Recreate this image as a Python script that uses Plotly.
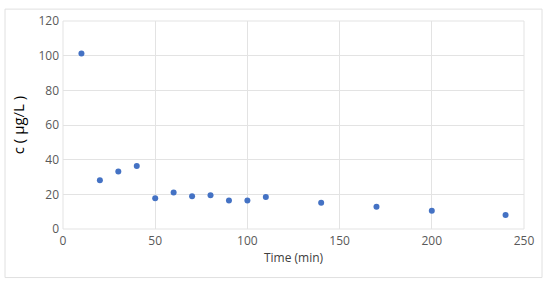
import plotly.graph_objects as go

time_min = [10, 20, 30, 40, 50, 60, 70, 80, 90, 100, 110, 140, 170, 200, 240]
conc = [101.3, 28.1, 33.2, 36.3, 17.7, 21.1, 18.9, 19.4, 16.4, 16.4, 18.5, 15.1, 12.8, 10.5, 8.1]

W, H = 550, 286
L, R, T, B = 63, 26, 19, 57
pw, ph = W - L - R, H - T - B

fig = go.Figure()
fig.add_trace(go.Scatter(
    x=time_min, y=conc, mode="markers",
    marker=dict(color="#4472C4", size=6),
    showlegend=False,
))

font_family = "Open Sans, Liberation Sans, sans-serif"
fig.update_layout(
    width=W, height=H,
    margin=dict(l=L, r=R, t=T, b=B),
    paper_bgcolor="white", plot_bgcolor="white",
    font=dict(family=font_family, size=12, color="#595959"),
    xaxis=dict(
        range=[0, 250], tickvals=[0, 50, 100, 150, 200, 250],
        showgrid=True, gridcolor="#e3e3e3", gridwidth=1,
        zeroline=False, showline=False, ticks="",
        ticklabelstandoff=3,
        title=dict(text="Time (min)", font=dict(size=12, color="#404040"), standoff=5),
    ),
    yaxis=dict(
        range=[0, 120], tickvals=[0, 20, 40, 60, 80, 100, 120],
        showgrid=True, gridcolor="#e3e3e3", gridwidth=1,
        zeroline=False, showline=False, ticks="",
        ticklabelstandoff=3,
        title=dict(text="c ( μg/L )", font=dict(size=15, color="#000000"), standoff=10),
    ),
    shapes=[
        dict(type="rect", xref="paper", yref="paper",
             x0=(5 - L) / pw, x1=(542 - L) / pw,
             y0=(H - B - 278) / ph, y1=(H - B - 7) / ph,
             line=dict(color="#e0e0e0", width=1), fillcolor="rgba(0,0,0,0)", layer="below"),
        dict(type="line", xref="paper", yref="paper",
             x0=0, x1=1, y0=1, y1=1, line=dict(color="#e3e3e3", width=1)),
        dict(type="line", xref="paper", yref="paper",
             x0=1, x1=1, y0=0, y1=1, line=dict(color="#e3e3e3", width=1)),
        dict(type="line", xref="paper", yref="paper",
             x0=0, x1=0, y0=0, y1=1, line=dict(color="#e3e3e3", width=1)),
        dict(type="line", xref="paper", yref="paper",
             x0=0, x1=1, y0=0, y1=0, line=dict(color="#e3e3e3", width=1)),
    ],
)

fig.write_html(
    "out.html",
    config={"displayModeBar": False},
    post_script="document.body.style.margin='0';document.body.style.padding='0';document.body.style.overflow='hidden';",
)
